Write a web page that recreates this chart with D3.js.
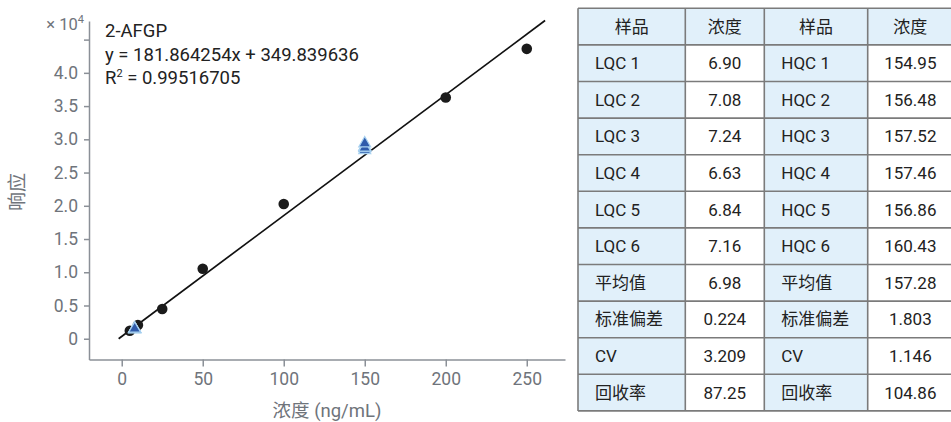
<!DOCTYPE html>
<html><head><meta charset="utf-8">
<script src="https://cdn.jsdelivr.net/npm/d3@7"></script>
<style>
body{margin:0;background:#fff;}
svg{display:block;font-family:Roboto,"Noto Sans CJK SC",sans-serif;}
</style></head>
<body><svg id="c" width="951" height="422"></svg>
<script>
// Calibration standards (ng/mL, response)
const stdConc = [5, 10, 25, 50, 100, 200, 250];
const stdResp = [1200, 2060, 4470, 10530, 20260, 36300, 43610];
// QC samples (nominal conc, response)
const lqcConc = [8, 8, 8, 8, 8, 8];
const lqcResp = [1605, 1637, 1667, 1556, 1594, 1652];
const hqcConc = [150, 150, 150, 150, 150, 150];
const hqcResp = [28530, 28810, 29000, 28985, 28880, 29530];
// Fit line endpoints
const fitX = [-1.92, 261.3];
const fitY = [0, 47870];
const xTicks = [0, 50, 100, 150, 200, 250];
const yTicks = [0, 5000, 10000, 15000, 20000, 25000, 30000, 35000, 40000, 45000];
const annot = ["2-AFGP", "y = 181.864254x + 349.839636", "R² = 0.99516705"];
// Table
const tableHeader = ["样品", "浓度", "样品", "浓度"];
const lNames = ["LQC 1","LQC 2","LQC 3","LQC 4","LQC 5","LQC 6","平均值","标准偏差","CV","回收率"];
const lVals = ["6.90","7.08","7.24","6.63","6.84","7.16","6.98","0.224","3.209","87.25"];
const hNames = ["HQC 1","HQC 2","HQC 3","HQC 4","HQC 5","HQC 6","平均值","标准偏差","CV","回收率"];
const hVals = ["154.95","156.48","157.52","157.46","156.86","160.43","157.28","1.803","1.146","104.86"];

const svg = d3.select("#c");
const axisColor = "#8b9097", tickText = "#6f747b";
const x = d3.scaleLinear().domain([-20.2, 273.6]).range([89, 565]);
const y = d3.scaleLinear().domain([-3125, 47800]).range([359.5, 21]);

const gx = svg.append("g").attr("transform", "translate(0,359.5)")
  .call(d3.axisBottom(x).tickValues(xTicks).tickSize(7).tickPadding(4).tickSizeOuter(0));
const gy = svg.append("g").attr("transform", "translate(89,0)")
  .call(d3.axisLeft(y).tickValues(yTicks).tickSize(5).tickPadding(6).tickSizeOuter(0)
    .tickFormat(d => d === 45000 ? "" : (d === 0 ? "0" : d3.format(".1f")(d / 10000))));
[gx, gy].forEach(g => {
  g.select(".domain").attr("stroke", axisColor).attr("stroke-width", 1.5);
  g.selectAll(".tick line").attr("stroke", axisColor).attr("stroke-width", 1.5);
  g.selectAll(".tick text").attr("fill", tickText).style("font-size", "17.5px").style("font-family", "Roboto");
});
gx.selectAll(".tick text").attr("dy", "0.85em");

// x10^4
const mult = svg.append("text").attr("x", 84).attr("y", 30).attr("text-anchor", "end")
  .attr("fill", tickText).style("font-size", "16.5px");
mult.append("tspan").text("× 10");
mult.append("tspan").text("4").attr("dy", -7).style("font-size", "11px");

// axis titles
svg.append("text").attr("x", 327).attr("y", 417).attr("text-anchor", "middle")
  .attr("fill", tickText).style("font-size", "18.5px").text("浓度 (ng/mL)");
svg.append("text").attr("transform", "translate(24,192) rotate(-90)").attr("text-anchor", "middle")
  .attr("fill", tickText).style("font-size", "19px").text("响应");

// annotation
annot.forEach((t, i) => {
  const tx = svg.append("text").attr("x", 105).attr("y", 37 + i * 23.5).attr("fill", "#222")
    .style("font-size", "18.5px");
  if (i === 2) {
    tx.append("tspan").text("R");
    tx.append("tspan").text("2").attr("dy", -7).style("font-size", "11px");
    tx.append("tspan").text(" = 0.99516705").attr("dy", 7);
  } else tx.text(t);
});

// fit line
svg.append("line").attr("x1", x(fitX[0])).attr("y1", y(fitY[0]))
  .attr("x2", x(fitX[1])).attr("y2", y(fitY[1]))
  .attr("stroke", "#111").attr("stroke-width", 1.7);

// standards
svg.selectAll("circle.std").data(stdConc).enter().append("circle")
  .attr("cx", d => x(d)).attr("cy", (d, i) => y(stdResp[i])).attr("r", 5.3).attr("fill", "#1b1b1b");

// QC triangles
const tri = d3.symbol().type(d3.symbolTriangle).size(62);
const qc = lqcConc.map((c, i) => [c, lqcResp[i]]).concat(hqcConc.map((c, i) => [c, hqcResp[i]]));
svg.selectAll("path.qc").data(qc).enter().append("path")
  .attr("d", tri).attr("transform", d => `translate(${x(d[0])},${y(d[1]) + 1})`)
  .attr("fill", "#2f5bab").attr("stroke", "#a8d1f0").attr("stroke-width", 1.2);

// table
const ty0 = 8.3, rowH = 36.6;
const colX = [578, 685.3, 764.3, 867.7, 953];
const rows = [tableHeader].concat(lNames.map((n, i) => [n, lVals[i], hNames[i], hVals[i]]));
const tg = svg.append("g");
rows.forEach((r, ri) => {
  r.forEach((v, ci) => {
    const shaded = ri === 0 || ci === 0 || ci === 2;
    tg.append("rect").attr("x", colX[ci]).attr("y", ty0 + ri * rowH)
      .attr("width", colX[ci + 1] - colX[ci]).attr("height", rowH)
      .attr("fill", shaded ? "#e1f0fa" : "#fff");
    const center = ri === 0 || ci === 1 || ci === 3;
    tg.append("text")
      .attr("x", center ? (colX[ci] + colX[ci + 1]) / 2 : colX[ci] + 17)
      .attr("y", ty0 + ri * rowH + rowH / 2 + 6)
      .attr("text-anchor", center ? "middle" : "start")
      .attr("fill", "#222").style("font-size", "17px").text(v);
  });
});
for (let ri = 0; ri <= rows.length; ri++) {
  tg.append("line").attr("x1", colX[0]).attr("x2", colX[4])
    .attr("y1", ty0 + ri * rowH).attr("y2", ty0 + ri * rowH)
    .attr("stroke", "#7b7b7b").attr("stroke-width", 1.6);
}
colX.forEach(cx => {
  tg.append("line").attr("x1", cx).attr("x2", cx).attr("y1", ty0).attr("y2", ty0 + rows.length * rowH)
    .attr("stroke", "#7b7b7b").attr("stroke-width", 1.6);
});
</script></body></html>
